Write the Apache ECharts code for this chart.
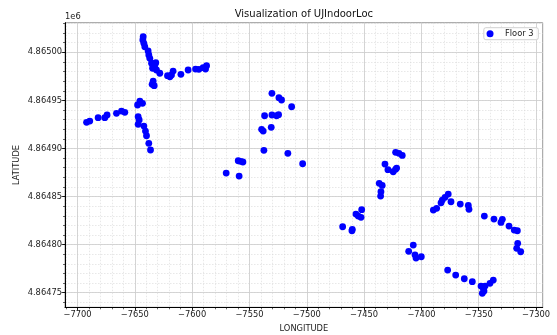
<!DOCTYPE html>
<html>
<head>
<meta charset="utf-8">
<script src="https://cdn.jsdelivr.net/npm/echarts@6/dist/echarts.min.js"></script>
<style>
html,body{margin:0;padding:0;background:#fff;}
#chart{width:557px;height:335px;}
</style>
</head>
<body>
<div id="chart"></div>
<script>
// ---- data ----
const seriesName = 'Floor 3';
const longitude = [
  -7642.7,-7643.0,-7642.1,-7641.3,-7638.4,-7637.8,-7636.9,-7635.4,-7634.0,-7632.5,
  -7631.7,-7631.1,-7634.5,-7628.2,-7621.5,-7619.4,-7616.6,-7618.0,-7609.8,-7603.5,
  -7597.0,-7594.1,-7590.4,-7587.4,-7588.3,-7634.0,-7634.9,-7633.1,-7645.6,-7647.6,
  -7643.3,-7658.7,-7661.6,-7666.0,-7674.2,-7676.2,-7682.0,-7689.3,-7692.1,-7647.1,
  -7646.2,-7647.1,-7642.1,-7640.7,-7639.8,-7637.8,-7636.3,-7530.4,-7524.3,-7522.0,
  -7513.2,-7536.8,-7530.4,-7526.3,-7524.6,-7539.4,-7538.0,-7531.0,-7537.4,-7516.5,
  -7503.6,-7559.8,-7557.7,-7555.7,-7570.3,-7559.0,-7422.5,-7419.6,-7416.7,-7431.8,
  -7429.2,-7424.6,-7422.5,-7421.6,-7436.8,-7434.2,-7435.3,-7435.6,-7452.1,-7457.1,
  -7455.1,-7452.7,-7468.7,-7460.3,-7460.6,-7407.1,-7411.1,-7405.6,-7404.7,-7400.1,
  -7389.6,-7386.7,-7382.9,-7381.8,-7379.4,-7376.6,-7374.2,-7366.1,-7359.1,-7358.5,
  -7345.1,-7336.7,-7329.4,-7330.6,-7323.6,-7319.0,-7316.3,-7316.0,-7316.9,-7313.4,
  -7377.1,-7370.1,-7362.6,-7355.6,-7348.0,-7346.0,-7344.5,-7346.9,-7345.4,-7340.2,
  -7337.3
];
const latitude = [
  4865016.2,4865012.8,4865009.4,4865005.8,4865001.4,4864997.2,4864993.8,4864988.6,4864985.0,4864986.8,
  4864989.2,4864981.6,4864983.4,4864978.2,4864975.7,4864974.6,4864980.5,4864976.4,4864977.1,4864981.6,
  4864982.6,4864982.3,4864984.0,4864986.1,4864982.6,4864970.1,4864966.7,4864965.3,4864949.3,4864945.2,
  4864946.9,4864937.6,4864938.9,4864936.5,4864934.8,4864932.0,4864932.0,4864928.5,4864927.2,4864933.0,
  4864929.6,4864925.1,4864923.3,4864918.1,4864913.2,4864905.3,4864898.4,4864957.3,4864952.8,4864950.4,
  4864943.4,4864934.0,4864934.8,4864934.0,4864935.1,4864919.9,4864918.1,4864922.0,4864898.1,4864894.9,
  4864884.1,4864887.2,4864886.6,4864885.9,4864874.4,4864871.3,4864896.0,4864894.9,4864892.8,4864883.8,
  4864877.9,4864875.8,4864878.3,4864879.6,4864863.7,4864861.6,4864855.0,4864850.5,4864836.3,4864831.8,
  4864829.7,4864828.4,4864818.6,4864815.9,4864814.4,4864799.5,4864793.0,4864789.4,4864786.0,4864787.4,
  4864835.9,4864837.7,4864843.5,4864846.3,4864849.2,4864852.6,4864844.6,4864842.2,4864840.8,4864836.7,
  4864829.7,4864826.6,4864826.3,4864823.1,4864819.3,4864815.1,4864814.4,4864801.3,4864796.1,4864792.6,
  4864773.5,4864768.3,4864764.5,4864761.4,4864756.9,4864754.5,4864756.9,4864749.3,4864751.7,4864759.7,
  4864763.1
];
const xTickValues = [-7700, -7650, -7600, -7550, -7500, -7450, -7400, -7350, -7300];
const xTickLabels = ['\u22127700','\u22127650','\u22127600','\u22127550','\u22127500','\u22127450','\u22127400','\u22127350','\u22127300'];
const yTickValues = [4864750, 4864800, 4864850, 4864900, 4864950, 4865000];
const yTickLabels = ['4.86475','4.86480','4.86485','4.86490','4.86495','4.86500'];
const xRange = [-7710.9, -7294.2];
const yRange = [4864734.8, 4865030.8];
const minorStep = 10;

// ---- build ----
function minorTicks(range, step) {
  const out = [];
  for (let v = Math.ceil(range[0] / step) * step; v <= range[1]; v += step) out.push(v);
  return out;
}
const xMinor = minorTicks(xRange, minorStep);
const yMinor = minorTicks(yRange, minorStep);
const points = longitude.map((x, i) => [x, latitude[i]]);

const FONT = 'DejaVu Sans';
const labelStyle = {fontFamily: FONT, fontSize: 8.3, color: '#222'};
const minorLine = {color: '#d9d9d9', width: 0.6, type: [1.5, 1.5]};
const majorLine = {color: '#cccccc', width: 0.8};

function lookup(values, labels) {
  return function (v) {
    const i = values.findIndex(t => Math.abs(t - v) < 1e-6);
    return i >= 0 ? labels[i] : '';
  };
}

const chart = echarts.init(document.getElementById('chart'), null, {renderer: 'canvas'});
chart.setOption({
  animation: false,
  backgroundColor: '#fff',
  grid: {left: 65, right: 14.3, top: 22.7, bottom: 27.7, show: true,
         borderColor: '#9a9a9a', borderWidth: 1, backgroundColor: 'transparent'},
  legend: {
    data: [seriesName], right: 18.7, top: 27.7, orient: 'vertical',
    backgroundColor: 'rgba(255,255,255,0.85)', borderColor: '#d0d0d0', borderWidth: 1, borderRadius: 2,
    padding: [2, 4.7, 2, 2.7], itemWidth: 20, itemHeight: 7, icon: 'circle',
    textStyle: {fontFamily: FONT, fontSize: 8.3, color: '#222'}
  },
  xAxis: [
    {type: 'value', min: xRange[0], max: xRange[1], position: 'bottom',
     axisLine: {show: true, onZero: false, lineStyle: {color: '#000', width: 1}},
     axisTick: {show: true, customValues: xMinor, length: 2, lineStyle: {color: '#000', width: 0.6}},
     axisLabel: {show: false},
     splitLine: {show: true, lineStyle: minorLine}},
    {type: 'value', min: xRange[0], max: xRange[1], position: 'bottom',
     axisLine: {show: false, onZero: false},
     axisTick: {show: true, customValues: xTickValues, length: 3.5, lineStyle: {color: '#000', width: 0.8}},
     axisLabel: Object.assign({show: true, customValues: xTickValues, margin: 4,
                               formatter: lookup(xTickValues, xTickLabels)}, labelStyle),
     splitLine: {show: true, lineStyle: majorLine}}
  ],
  yAxis: [
    {type: 'value', min: yRange[0], max: yRange[1], position: 'left',
     axisLine: {show: true, onZero: false, lineStyle: {color: '#000', width: 1}},
     axisTick: {show: true, customValues: yMinor, length: 2, lineStyle: {color: '#000', width: 0.6}},
     axisLabel: {show: false},
     splitLine: {show: true, lineStyle: minorLine}},
    {type: 'value', min: yRange[0], max: yRange[1], position: 'left',
     axisLine: {show: false, onZero: false},
     axisTick: {show: true, customValues: yTickValues, length: 3.5, lineStyle: {color: '#000', width: 0.8}},
     axisLabel: Object.assign({show: true, customValues: yTickValues, margin: 3,
                               formatter: lookup(yTickValues, yTickLabels)}, labelStyle),
     splitLine: {show: true, lineStyle: majorLine}}
  ],
  series: [{
    name: seriesName, type: 'scatter', xAxisIndex: 0, yAxisIndex: 0,
    data: points, symbol: 'circle', symbolSize: 6.8,
    itemStyle: {color: '#0000ff', opacity: 1}, z: 5
  }],
  graphic: [
    {type: 'text', x: 303.9, y: 14, style: {text: 'Visualization of UJIndoorLoc', fontFamily: FONT,
      fontSize: 10, fill: '#111', align: 'center', verticalAlign: 'middle'}},
    {type: 'text', x: 65, y: 17, style: {text: '1e6', fontFamily: FONT, fontSize: 8.3,
      fill: '#222', align: 'left', verticalAlign: 'middle'}},
    {type: 'text', x: 303.9, y: 329, style: {text: 'LONGITUDE', fontFamily: FONT, fontSize: 8.3,
      fill: '#222', align: 'center', verticalAlign: 'middle'}},
    {type: 'text', x: 16.5, y: 165, rotation: Math.PI / 2, style: {text: 'LATITUDE', fontFamily: FONT,
      fontSize: 8.3, fill: '#222', align: 'center', verticalAlign: 'middle'}}
  ]
});
</script>
</body>
</html>
